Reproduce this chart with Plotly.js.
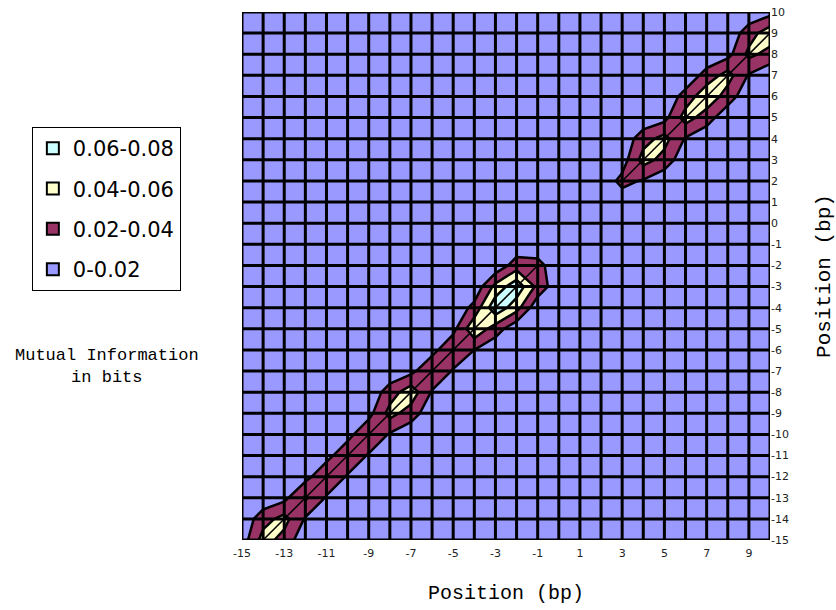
<!DOCTYPE html>
<html>
<head>
<meta charset="utf-8">
<script src="https://cdn.plot.ly/plotly-3.0.1.min.js"></script>
<style>html,body{margin:0;padding:0;background:#fff;}#chart{width:836px;height:610px;}</style>
</head>
<body>
<div id="chart"></div>
<script>
// Positions (bp) on both axes
var positions = [-15,-14,-13,-12,-11,-10,-9,-8,-7,-6,-5,-4,-3,-2,-1,0,1,2,3,4,5,6,7,8,9,10];
var xTickVals = [-15,-13,-11,-9,-7,-5,-3,-1,1,3,5,7,9];
var yTickVals = positions;

// Mutual information (bits) for adjacent pairs: x = -14..10, y = x-1
var bandX  = [-14,-13,-12,-11,-10,-9,-8,-7,-6,-5,-4,-3,-2,-1,0,1,2,3,4,5,6,7,8,9,10];
var bandMI = [0.048,0.047,0.043,0.036,0.035,0.037,0.047,0.052,0.038,0.037,0.056,0.075,0.074,0.024,0.012,0.010,0.012,0.026,0.048,0.047,0.049,0.054,0.048,0.045,0.052];
// pairs with y = x
var upperX  = [-15,-14,-13,-12,-11,-10,-9,-8,-7,-6,-5,-4,-3,-2,-1,0,1,2,3,4,5,6,7,8,9,10];
var upperMI = [0.009,0.032,0.014,0.013,0.013,0.013,0.013,0.030,0.014,0.013,0.014,0.026,0.046,0.030,0.012,0.006,0.006,0.006,0.010,0.032,0.013,0.028,0.028,0.013,0.031,0.013];
// pairs with y = x-2
var lowerX  = [-13,-12,-11,-10,-9,-8,-7,-6,-5,-4,-3,-2,-1,0,1,2,3,4,5,6,7,8,9,10];
var lowerMI = [0.033,0.018,0.018,0.018,0.018,0.018,0.031,0.018,0.018,0.020,0.030,0.048,0.034,0.012,0.006,0.006,0.008,0.018,0.033,0.018,0.030,0.031,0.018,0.033];
var backgroundMI = 0.005;

var rangeLabels = ['0.06-0.08','0.04-0.06','0.02-0.04','0-0.02'];
var rangeColors = ['#ccffff','#ffffcc','#993366','#9999ff'];

// build z table
var z = positions.map(function(){ return positions.map(function(){ return backgroundMI; }); });
function put(xs, vals, off){
  xs.forEach(function(x,k){
    var i = positions.indexOf(x), j = positions.indexOf(x+off);
    if(i>=0 && j>=0) z[j][i] = vals[k];
  });
}
put(upperX, upperMI, 0);
put(lowerX, lowerMI, -2);
put(bandX, bandMI, -1);

var contour = {
  type:'contour', x:positions, y:positions, z:z,
  colorscale:[[0,rangeColors[3]],[0.3333,rangeColors[2]],[0.6667,rangeColors[1]],[1,rangeColors[0]]],
  contours:{start:0.02,end:0.06,size:0.02,coloring:'fill',showlines:true},
  line:{color:'#000',width:2.5,smoothing:0},
  showscale:false, showlegend:false, hoverinfo:'skip'
};

// ridge line along the adjacent-pair band (where above 0.02)
var rx=[], ry=[];
bandX.forEach(function(x,k){
  if(bandMI[k] >= 0.02){ rx.push(x); ry.push(x-1); } else if(rx.length && rx[rx.length-1]!==null){ rx.push(null); ry.push(null); }
});
var ridge = {type:'scatter', mode:'lines', x:rx, y:ry, line:{color:'#000',width:1.5},
  hoverinfo:'skip', showlegend:false, connectgaps:false};

// grid overlay built from positions
var gx=[], gy=[];
var lo = positions[0], hi = positions[positions.length-1];
positions.forEach(function(p){ gx.push(p,p,null); gy.push(lo,hi,null); });
positions.forEach(function(p){ gx.push(lo,hi,null); gy.push(p,p,null); });
var grid = {type:'scatter', mode:'lines', x:gx, y:gy, line:{color:'#000',width:3},
  hoverinfo:'skip', showlegend:false, connectgaps:false};

var legendTraces = rangeLabels.map(function(lbl,k){
  return {type:'scatter', mode:'markers', x:[null], y:[null], name:lbl, legendgroup:'g'+k,
    marker:{symbol:'square', size:15, color:rangeColors[k], line:{color:'#000',width:2}}};
});

var layout = {
  width:836, height:610,
  margin:{l:242, r:66, t:12, b:70, pad:0},
  paper_bgcolor:'#fff', plot_bgcolor:'#9999ff',
  font:{family:'DejaVu Sans', color:'#222'},
  xaxis:{range:[lo,hi], tickvals:xTickVals, ticktext:xTickVals.map(String), showgrid:false, zeroline:false,
    showline:false, ticks:'', ticklabelstandoff:5, tickfont:{size:11, family:'DejaVu Sans', color:'#222'}},
  yaxis:{range:[lo,hi], side:'right', tickvals:yTickVals, ticktext:yTickVals.map(String), showgrid:false, zeroline:false,
    showline:false, ticks:'', tickfont:{size:11, family:'DejaVu Sans', color:'#222'},
    title:{text:'Position (bp)', font:{family:'Liberation Mono', size:21, color:'#000'}, standoff:27}},
  showlegend:true,
  legend:{x:-0.398, y:0.782, xanchor:'left', yanchor:'top', bordercolor:'#000', borderwidth:1, bgcolor:'#fff',
    font:{family:'DejaVu Sans', size:21, color:'#000'}, tracegroupgap:10, itemsizing:'constant'},
  annotations:[
    {xref:'paper', yref:'paper', x:-0.256, y:0.328, xanchor:'center', yanchor:'middle', showarrow:false,
     text:'Mutual Information<br>in bits', font:{family:'Liberation Mono', size:17, color:'#000'}, align:'center'},
    {xref:'paper', yref:'paper', x:0.5, y:-0.102, xanchor:'center', yanchor:'middle', showarrow:false,
     text:'Position (bp)', font:{family:'Liberation Mono', size:20, color:'#000'}}
  ]
};

Plotly.newPlot('chart', [contour, ridge, grid].concat(legendTraces), layout, {displayModeBar:false, staticPlot:true});
</script>
</body>
</html>
